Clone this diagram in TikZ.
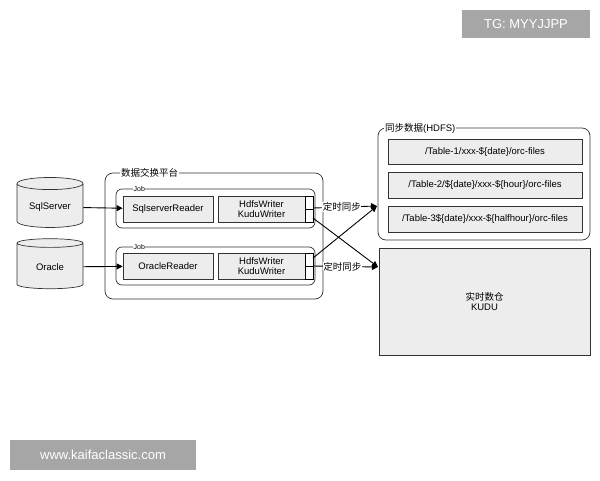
\documentclass[tikz,border=0pt]{standalone}
\usepackage{fontspec}
\setmainfont{Liberation Sans}
\newfontfamily\cjk{Noto Sans CJK SC}
\usetikzlibrary{shapes.geometric,arrows.meta}
\begin{document}
\begin{tikzpicture}[x=1pt,y=-1pt,
  box/.style={draw=black!80,fill=black!7,line width=0.7pt,inner sep=0pt,font=\fontsize{9.5}{10.5}\selectfont,align=center},
  grp/.style={draw=black!80,rounded corners=8pt,line width=0.7pt},
  lbl/.style={fill=white,inner sep=1pt,font=\fontsize{9.5}{10.5}\selectfont},
  arr/.style={-{Triangle[length=6pt,width=6pt]},line width=0.9pt},
  wm/.style={fill=black!35,text=white,font=\fontsize{13}{14}\selectfont,inner sep=0pt}]
\useasboundingbox (0,0) rectangle (600,480);
\fill[white] (0,0) rectangle (600,480);
\node[wm,minimum width=128pt,minimum height=28pt] (wm1) at (526,24) {TG: MYYJJPP};
\node[wm,minimum width=186pt,minimum height=30pt] (wm2) at (103,455) {www.kaifaclassic.com};
\node[cylinder,shape border rotate=90,aspect=0.25,draw=black!80,fill=black!7,line width=0.7pt,minimum width=66pt,minimum height=50pt,font=\fontsize{9.5}{10.5}\selectfont] (sql) at (50,207) {SqlServer};
\node[cylinder,shape border rotate=90,aspect=0.25,draw=black!80,fill=black!7,line width=0.7pt,minimum width=66pt,minimum height=50pt,font=\fontsize{9.5}{10.5}\selectfont] (ora) at (50,267) {Oracle};
\draw[grp] (105,173) rectangle (323,299);
\node[lbl,anchor=west] (plat) at (120,173) {\cjk 数据交换平台};
\draw[grp,rounded corners=6pt] (116,189) rectangle (315,228);
\node[lbl,anchor=west,font=\fontsize{7}{8}\selectfont,inner sep=0.5pt] (j1) at (133,189) {Job};
\draw[grp,rounded corners=6pt] (116,247) rectangle (315,285);
\node[lbl,anchor=west,font=\fontsize{7}{8}\selectfont,inner sep=0.5pt] (j2) at (133,247) {Job};
\node[box,minimum width=90pt,minimum height=26pt] (r1) at (168,209) {SqlserverReader};
\node[box,minimum width=87pt,minimum height=26pt] (w1) at (261.5,209) {HdfsWriter\\KuduWriter};
\node[box,minimum width=90pt,minimum height=26pt] (r2) at (168,266) {OracleReader};
\node[box,minimum width=87pt,minimum height=26pt] (w2) at (261.5,266) {HdfsWriter\\KuduWriter};
\draw[line width=0.6pt,fill=white] (305,196) rectangle (313,209) (305,209) rectangle (313,222);
\draw[line width=0.6pt,fill=white] (305,253) rectangle (313,266) (305,266) rectangle (313,279);
\coordinate (p1a) at (313,208); \coordinate (p1b) at (313,218);
\coordinate (p2a) at (313,258); \coordinate (p2b) at (313,266);
\draw[grp] (378,128) rectangle (590,240);
\node[lbl,anchor=west] (hdfs) at (384,128) {\cjk 同步数据\rmfamily(HDFS)};
\node[box,minimum width=194pt,minimum height=25pt] (t1) at (485,152) {/Table-1/xxx-\$\{date\}/orc-files};
\node[box,minimum width=194pt,minimum height=26pt] (t2) at (485,185) {/Table-2/\$\{date\}/xxx-\$\{hour\}/orc-files};
\node[box,minimum width=194pt,minimum height=26pt] (t3) at (485,219) {/Table-3\$\{date\}/xxx-\$\{halfhour\}/orc-files};
\node[box,minimum width=211pt,minimum height=107pt] (kudu) at (484.5,301.5) {{\cjk 实时数仓}\\KUDU};
\coordinate (hin) at (377,206); \coordinate (kin) at (378,267);
\draw[arr] (sql) -- (r1);
\draw[arr] (ora) -- (r2);
\draw[arr] (p1a) -- (hin) node[lbl,pos=0.45,inner sep=0.5pt] (s1) {\cjk 定时同步};
\draw[arr] (p2b) -- (kin) node[lbl,pos=0.45,inner sep=0.5pt] (s2) {\cjk 定时同步};
\draw[arr] (p1b) -- (kin);
\draw[arr] (p2a) -- (hin);
\end{tikzpicture}
\end{document}
